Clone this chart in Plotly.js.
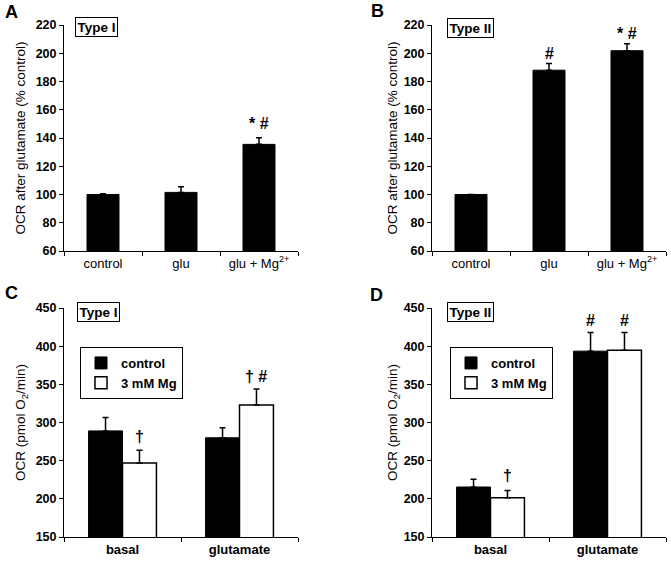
<!DOCTYPE html>
<html>
<head>
<meta charset="utf-8">
<script src="https://cdn.plot.ly/plotly-3.0.1.min.js"></script>
<style>html,body{margin:0;padding:0;background:#fff;}#chart{width:671px;height:563px;}</style>
</head>
<body>
<div id="chart"></div>
<script>
// ---- data ----
var catsAB = ['control', 'glu', 'glu + Mg<sup>2+</sup>'];
var typeIPct = [100, 101.5, 135.5];
var typeIPctErr = [0.5, 4, 4.7];
var typeIIPct = [100, 188, 201.8];
var typeIIPctErr = [0, 4.8, 5];

var catsCD = ['basal', 'glutamate'];
var typeIControl = [289, 280];
var typeIControlErr = [17.5, 13];
var typeIMg = [247, 323];
var typeIMgErr = [16.5, 21];
var typeIIControl = [215.5, 393.5];
var typeIIControlErr = [10, 24.5];
var typeIIMg = [201.5, 394.5];
var typeIIMgErr = [9.5, 23.5];

var seriesNames = ['control', '3 mM Mg'];
var ticksPct = [60, 80, 100, 120, 140, 160, 180, 200, 220];
var ticksOCR = [150, 200, 250, 300, 350, 400, 450];

// ---- helpers ----
var FONT = 'Liberation Sans, Arial, sans-serif';
function zeros(a) { return a.map(function () { return 0; }); }
function errBar(arr) {
  return {type: 'data', array: arr, symmetric: false, arrayminus: zeros(arr),
          color: '#000', thickness: 1.5, width: 3};
}
function bar(x, y, err, xa, ya, fill, opts) {
  var t = {type: 'bar', x: x, y: y, xaxis: xa, yaxis: ya,
           marker: {color: fill, line: {color: '#000', width: fill === '#000' ? 1 : 1.5}},
           error_y: errBar(err), hoverinfo: 'x+y', showlegend: false};
  for (var k in opts) t[k] = opts[k];
  return t;
}

var data = [
  bar(catsAB, typeIPct, typeIPctErr, 'x', 'y', '#000', {width: 0.41, offset: -0.205}),
  bar(catsAB, typeIIPct, typeIIPctErr, 'x2', 'y2', '#000', {width: 0.41, offset: -0.205}),
  bar(catsCD, typeIControl, typeIControlErr, 'x3', 'y3', '#000',
      {width: 0.29, offset: -0.29, name: seriesNames[0], showlegend: true, legend: 'legend'}),
  bar(catsCD, typeIMg, typeIMgErr, 'x3', 'y3', '#fff',
      {width: 0.29, offset: 0, name: seriesNames[1], showlegend: true, legend: 'legend'}),
  bar(catsCD, typeIIControl, typeIIControlErr, 'x4', 'y4', '#000',
      {width: 0.29, offset: -0.29, name: seriesNames[0], showlegend: true, legend: 'legend2'}),
  bar(catsCD, typeIIMg, typeIIMgErr, 'x4', 'y4', '#fff',
      {width: 0.29, offset: 0, name: seriesNames[1], showlegend: true, legend: 'legend2'})
];

var W = 671, H = 563;
function xd(a, b) { return [a / W, b / W]; }
function yd(top, bottom) { return [1 - bottom / H, 1 - top / H]; }

function xAxis(dom, cats, bold, anchor) {
  return {domain: dom, anchor: anchor, type: 'category', categoryarray: cats,
          range: [-0.5, cats.length - 0.5], tickson: 'boundaries', ticks: 'outside',
          ticklen: 4, tickcolor: '#000', showline: true, linecolor: '#000', linewidth: 1,
          showgrid: false, zeroline: false, fixedrange: true,
          tickfont: {family: FONT, size: 13, color: '#000', weight: bold ? 'bold' : 'normal'}};
}
function yAxis(dom, rng, tv, title, anchor, standoff) {
  return {domain: dom, anchor: anchor, range: rng, tickmode: 'array', tickvals: tv,
          ticks: 'outside', ticklen: 4, tickcolor: '#000', showline: true, linecolor: '#000',
          linewidth: 1, showgrid: false, zeroline: false, fixedrange: true,
          tickfont: {family: FONT, size: 12.5, color: '#000', weight: 'bold'},
          title: {text: title, standoff: standoff, font: {family: FONT, size: 13.5, color: '#000'}}};
}

var pctTitle = 'OCR after glutamate (% control)';
var ocrTitle = 'OCR (pmol O<sub>2</sub>/min)';

function panelLabel(t, x, y) {
  return {text: '<b>' + t + '</b>', xref: 'paper', yref: 'paper', x: x / W, y: 1 - y / H,
          xanchor: 'center', yanchor: 'middle', showarrow: false,
          font: {family: FONT, size: 18, color: '#000'}};
}
function typeBox(t, x, y) {
  return {text: '<b>' + t + '</b>', xref: 'paper', yref: 'paper', x: x / W, y: 1 - y / H,
          xanchor: 'center', yanchor: 'middle', showarrow: false,
          bordercolor: '#000', borderwidth: 1, borderpad: 1.5, bgcolor: '#fff',
          font: {family: FONT, size: 13.5, color: '#000'}};
}
function sig(t, xa, ya, x, y) {
  return {text: '<b>' + t + '</b>', xref: xa, yref: ya, x: x, y: y,
          xanchor: 'center', yanchor: 'middle', showarrow: false,
          font: {family: FONT, size: 16, color: '#000'}};
}
function legendBox(x, y) {
  return {x: x / W, y: 1 - y / H, xanchor: 'left', yanchor: 'top',
          bordercolor: '#000', borderwidth: 1, bgcolor: '#fff', tracegroupgap: 0,
          itemclick: false, itemdoubleclick: false,
          font: {family: FONT, size: 13, color: '#000', weight: 'bold'}};
}

var layout = {
  width: W, height: H, margin: {l: 0, r: 0, t: 0, b: 0},
  paper_bgcolor: '#fff', plot_bgcolor: '#fff', barmode: 'overlay',
  font: {family: FONT, color: '#000'},
  xaxis: xAxis(xd(64, 298), catsAB, false, 'y'),
  yaxis: yAxis(yd(25, 251), [60, 220], ticksPct, pctTitle, 'x', 6),
  xaxis2: xAxis(xd(432, 666), catsAB, false, 'y2'),
  yaxis2: yAxis(yd(25, 251), [60, 220], ticksPct, pctTitle, 'x2', 2),
  xaxis3: xAxis(xd(64, 298), catsCD, true, 'y3'),
  yaxis3: yAxis(yd(308, 537), [150, 450], ticksOCR, ocrTitle, 'x3', 6),
  xaxis4: xAxis(xd(432, 666), catsCD, true, 'y4'),
  yaxis4: yAxis(yd(308, 537), [150, 450], ticksOCR, ocrTitle, 'x4', 2),
  legend: legendBox(80, 347),
  legend2: legendBox(450, 347),
  annotations: [
    panelLabel('A', 11, 12), panelLabel('B', 378, 11),
    panelLabel('C', 11, 293), panelLabel('D', 376, 295),
    typeBox('Type I', 96.5, 27), typeBox('Type II', 471, 28),
    typeBox('Type I', 98, 312), typeBox('Type II', 470, 312),
    sig('* #', 'x', 'y', 2, 150),
    sig('#', 'x2', 'y2', 1, 200),
    sig('* #', 'x2', 'y2', 2, 214),
    sig('†', 'x3', 'y3', 0.145, 281),
    sig('† #', 'x3', 'y3', 1.145, 360),
    sig('†', 'x4', 'y4', 0.145, 231),
    sig('#', 'x4', 'y4', 0.855, 433),
    sig('#', 'x4', 'y4', 1.145, 433)
  ]
};

Plotly.newPlot('chart', data, layout, {displayModeBar: false, staticPlot: true});
</script>
</body>
</html>
